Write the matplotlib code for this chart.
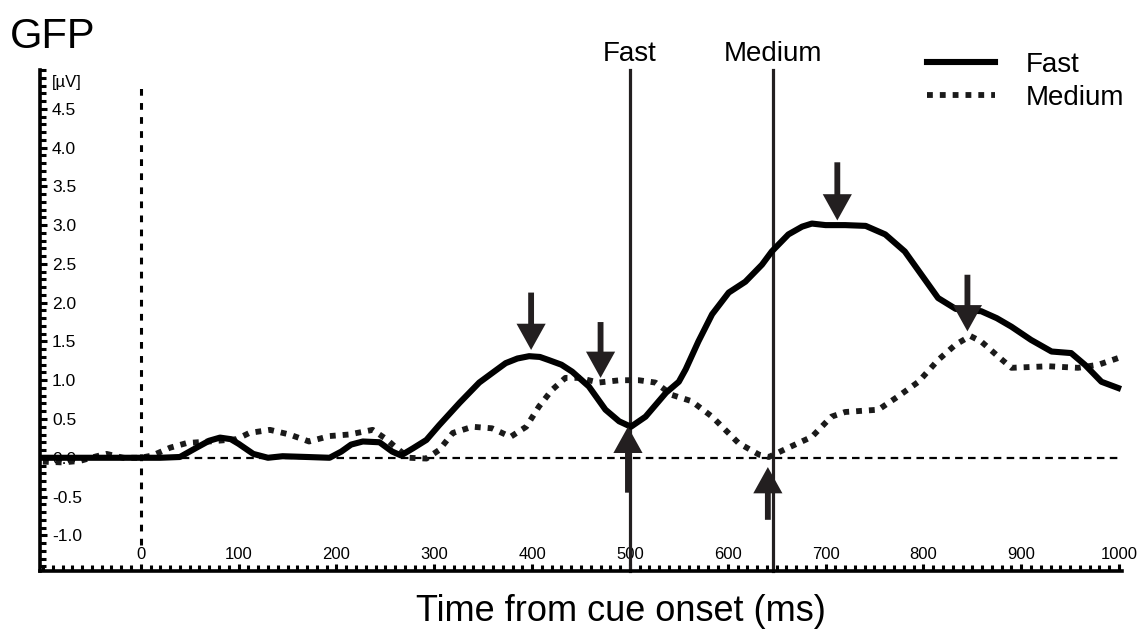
import matplotlib
matplotlib.use("Agg")
import matplotlib.pyplot as plt
from matplotlib.ticker import MultipleLocator

plt.rcParams['font.family'] = ['Liberation Sans', 'DejaVu Sans']

# GFP time courses (ms, µV)
t_fast = [-100, -60, -20, 0, 20, 40, 57, 70, 81, 92,
          100, 115, 130, 145, 170, 193, 205, 215, 227, 244,
          257, 266, 278, 292, 305, 326, 346, 360, 373, 385,
          397, 408, 417, 430, 441, 458, 475, 489, 501, 516,
          537, 550, 557, 570, 584, 601, 618, 635, 645, 662,
          676, 686, 700, 720, 741, 761, 781, 798, 815, 833,
          845, 859, 875, 890, 910, 931, 951, 965, 982, 999]
v_fast = [0.0, 0.0, 0.0, 0.0, 0.0, 0.01, 0.13, 0.22, 0.26, 0.24,
          0.18, 0.05, 0.0, 0.02, 0.01, 0.0, 0.08, 0.17, 0.21, 0.2,
          0.08, 0.03, 0.12, 0.23, 0.42, 0.71, 0.97, 1.1, 1.22, 1.28,
          1.31, 1.3, 1.26, 1.2, 1.11, 0.92, 0.62, 0.47, 0.4, 0.53,
          0.84, 0.98, 1.14, 1.5, 1.85, 2.13, 2.27, 2.49, 2.66, 2.88,
          2.98, 3.02, 3.0, 3.0, 2.99, 2.88, 2.66, 2.36, 2.06, 1.92,
          1.9, 1.89, 1.8, 1.69, 1.52, 1.37, 1.35, 1.2, 0.98, 0.9]

t_med = [-100, -80, -62, -45, -35, -18, 0, 12, 30, 47,
         70, 98, 111, 132, 152, 172, 193, 213, 237, 251,
         261, 274, 292, 305, 319, 339, 359, 378, 394, 407,
         420, 434, 448, 468, 490, 509, 526, 543, 563, 584,
         611, 632, 642, 662, 686, 706, 720, 754, 774, 795,
         815, 833, 848, 859, 877, 890, 928, 958, 979, 1000]
v_med = [-0.05, -0.06, -0.04, 0.02, 0.05, 0.0, 0.0, 0.03, 0.13, 0.19,
         0.21, 0.24, 0.32, 0.36, 0.3, 0.21, 0.28, 0.3, 0.36, 0.24,
         0.13, 0.0, -0.01, 0.1, 0.32, 0.4, 0.38, 0.27, 0.4, 0.66,
         0.87, 1.03, 1.03, 0.97, 1.0, 1.0, 0.97, 0.81, 0.73, 0.53,
         0.19, 0.04, 0.01, 0.13, 0.27, 0.53, 0.59, 0.62, 0.79, 0.98,
         1.26, 1.46, 1.57, 1.5, 1.3, 1.16, 1.18, 1.16, 1.2, 1.29]

# mean reaction times
rt_times = [500, 646]
rt_labels = ["Fast", "Medium"]

# peak markers: (time, tip, tail)
down_t = [399, 470, 712, 845]
down_tip = [1.39, 1.03, 3.06, 1.63]
down_tail = [2.13, 1.75, 3.81, 2.36]
up_t = [498, 641]
up_tip = [0.40, -0.12]
up_tail = [-0.45, -0.80]

ink = '#231f20'

fig = plt.figure(figsize=(11.45, 6.3), dpi=100)
ax = fig.add_axes([40 / 1145, 1 - 571 / 630, 1082 / 1145, 501 / 630])

ax.plot([-103, 1003], [0, 0], color='black', lw=1.6,
        linestyle=(0, (3.4, 2.4)), zorder=1)
ax.plot([0, 0], [-1.12, 4.81], color='black', lw=2.2,
        linestyle=(0, (2.2, 2.4)), zorder=1)

for t in rt_times:
    ax.plot([t, t], [-1.46, 5.0], color=ink, lw=2.3, zorder=2, clip_on=False)
for t, lab in zip(rt_times, rt_labels):
    ax.text(t, 5.11, lab, ha='center', va='baseline', fontsize=20, clip_on=False)

fast_line, = ax.plot(t_fast, v_fast, color='black', lw=4.4,
                     solid_joinstyle='round', label='Fast', zorder=4)
med_line, = ax.plot(t_med, v_med, color='#1a1a1a', lw=4.2,
                    linestyle=(0, (1.0, 1.2)), dash_capstyle='butt',
                    label='Medium', zorder=3)

arrow_style = 'simple,head_length=0.9,head_width=1.0,tail_width=0.2'
for t, tip, tail in zip(down_t + up_t, down_tip + up_tip, down_tail + up_tail):
    ax.annotate('', xy=(t, tip), xytext=(t, tail),
                arrowprops=dict(arrowstyle=arrow_style, color=ink,
                                mutation_scale=21, shrinkA=0, shrinkB=0,
                                lw=0),
                zorder=5)

ax.set_xlim(-103, 1003)
ax.set_ylim(-1.46, 5.0)

for side in ['top', 'right']:
    ax.spines[side].set_visible(False)
for side in ['left', 'bottom']:
    ax.spines[side].set_linewidth(2.6)

ax.set_xticks(range(0, 1001, 100))
ax.xaxis.set_minor_locator(MultipleLocator(10))
ax.set_yticks([-1.0, -0.5, 0.0, 0.5, 1.0, 1.5, 2.0, 2.5, 3.0, 3.5, 4.0, 4.5])
ax.set_yticklabels(['-1.0', '-0.5', '0.0', '0.5', '1.0', '1.5', '2.0',
                    '2.5', '3.0', '3.5', '4.0', '4.5'])
ax.yaxis.set_minor_locator(MultipleLocator(0.1))
ax.tick_params(axis='both', which='both', direction='in', width=2.2)
ax.tick_params(axis='both', which='major', length=5)
ax.tick_params(axis='both', which='minor', length=4)
ax.tick_params(axis='x', which='major', labelsize=12, pad=-17)
ax.tick_params(axis='y', which='major', labelsize=12.5, pad=-8.6)
for lbl in ax.get_yticklabels():
    lbl.set_horizontalalignment('left')

ax.text(-91, 4.84, '[µV]', ha='left', va='center', fontsize=12)

ax.legend(handles=[fast_line, med_line], loc='upper left',
          bbox_to_anchor=(927 / 1145, 1 - 52 / 630),
          bbox_transform=fig.transFigure, frameon=False, fontsize=20,
          handlelength=2.45, handletextpad=1.1, labelspacing=0.25,
          borderpad=0, borderaxespad=0)

fig.text(10 / 1145, 1 - 48 / 630, 'GFP', fontsize=30, va='baseline')
fig.text(621 / 1145, 1 - 621 / 630, 'Time from cue onset (ms)',
         fontsize=26, ha='center', va='baseline')

fig.savefig('out.png', dpi=100)
